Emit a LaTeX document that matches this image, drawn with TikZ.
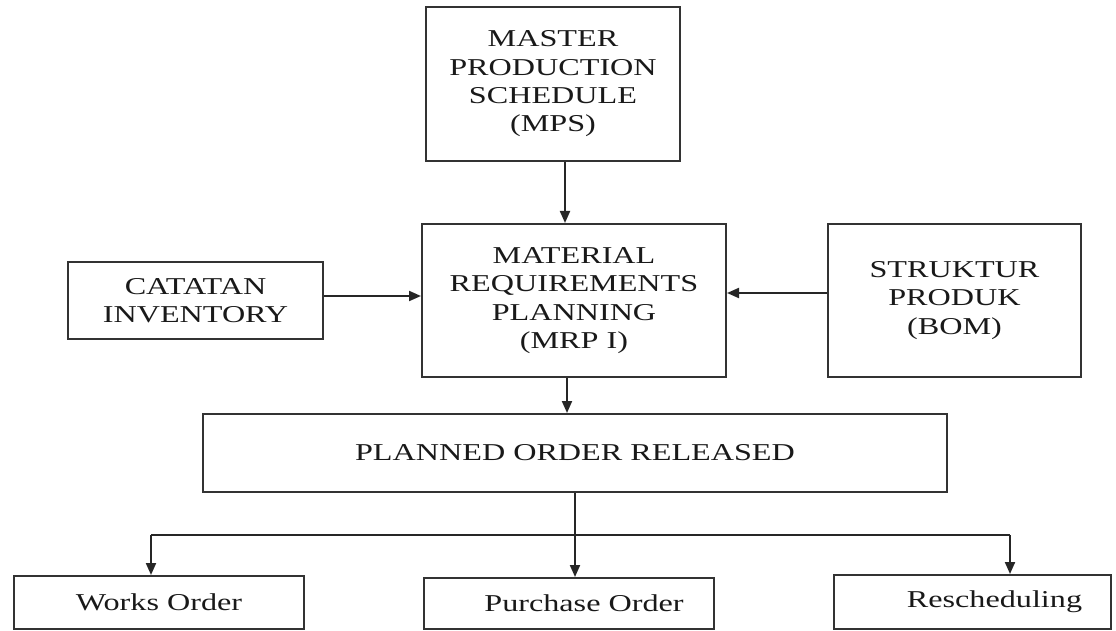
\documentclass[tikz,border=0pt]{standalone}
\usepackage{fontspec}
\setmainfont{Liberation Serif}[FakeStretch=1.33]
\usetikzlibrary{arrows.meta}
\begin{document}
\begin{tikzpicture}[x=1pt,y=-1pt,
  box/.style={draw=black!80, line width=2pt, fill=white, inner sep=0pt,
    align=center, text=black!90, font=\fontsize{24.2}{28.3}\selectfont},
  arr/.style={draw=black!85, line width=2pt,
    -{Triangle[length=12pt,width=10pt]}},
  line/.style={draw=black!85, line width=2pt}]
\useasboundingbox (0,0) rectangle (1116,631);

% boxes (centre, width, height in px)
\node[box, minimum width=254pt, minimum height=154pt] (mps) at (553,84)
  {MASTER\\PRODUCTION\\SCHEDULE\\(MPS)};
\node[box, minimum width=304pt, minimum height=153pt] (mrp) at (574,300.5)
  {MATERIAL\\REQUIREMENTS\\PLANNING\\(MRP I)};
\node[box, minimum width=255pt, minimum height=77pt] (cat) at (195.5,300.5)
  {CATATAN\\INVENTORY};
\node[box, minimum width=253pt, minimum height=153pt] (bom) at (954.5,300.5)
  {STRUKTUR\\PRODUK\\(BOM)};
\node[box, minimum width=744pt, minimum height=78pt] (por) at (575,453)
  {PLANNED ORDER RELEASED};
\node[box, minimum width=290pt, minimum height=53pt] (wo) at (159,602.5)
  {Works Order};
\node[box, minimum width=290pt, minimum height=51pt] (po) at (569,603.5)
  {\hspace*{30pt}Purchase Order};
\node[box, minimum width=277pt, minimum height=54pt] (rs) at (972.5,602)
  {\hspace*{44pt}Rescheduling};

% inputs into MRP
\draw[arr] ([xshift=12pt]mps.south) -- ([xshift=12pt]mps.south |- mrp.north);
\draw[arr] ([yshift=4.5pt]cat.east) -- ([yshift=4.5pt]cat.east -| mrp.west);
\draw[arr] ([yshift=7.5pt]bom.west) -- ([yshift=7.5pt]bom.west -| mrp.east);

% MRP output
\draw[arr] ([xshift=-7pt]mrp.south) -- ([xshift=-7pt]mrp.south |- por.north);

% distribution to the three order types
\coordinate (busL) at (151,535);
\coordinate (busR) at (1010,535);
\draw[line] (busL) -- (busR);
\draw[arr] (por.south) -- (por.south |- po.north);
\draw[arr] (busL) -- (busL |- wo.north);
\draw[arr] (busR) -- (busR |- rs.north);
\end{tikzpicture}
\end{document}
